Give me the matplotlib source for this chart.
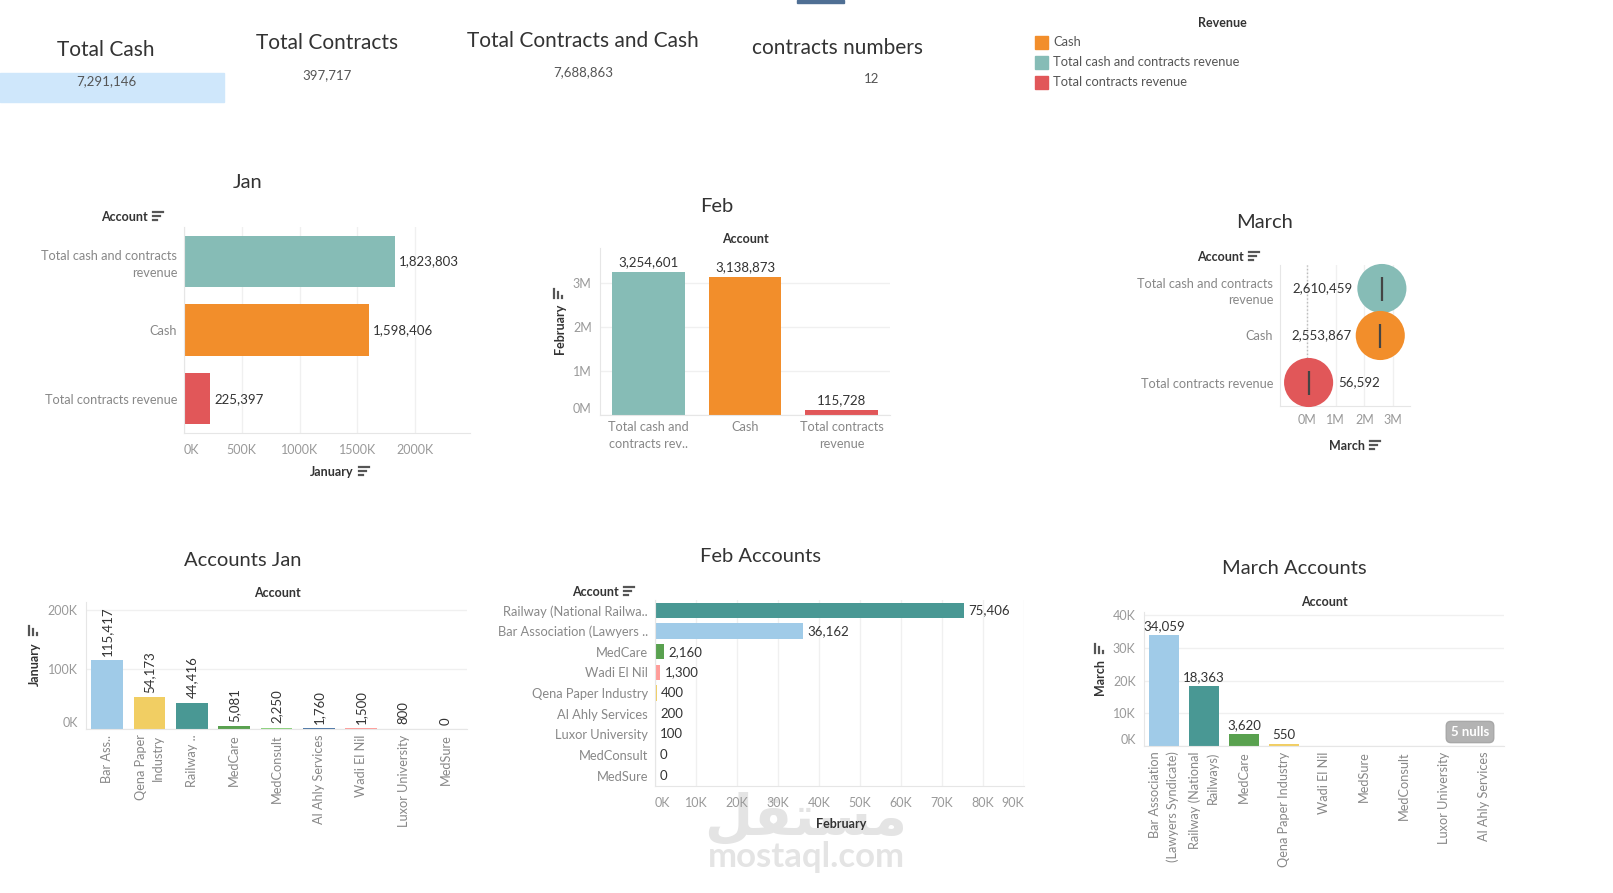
import numpy as np
import matplotlib
matplotlib.use('Agg')
import matplotlib.pyplot as plt
from matplotlib.patches import Rectangle
from matplotlib.lines import Line2D

plt.rcParams['font.family'] = ['Lato', 'DejaVu Sans']

W, H = 1613, 893

# KPI cards
kpi_titles = ['Total Cash', 'Total Contracts', 'Total Contracts and Cash', 'contracts numbers']
kpi_values = [7291146, 397717, 7688863, 12]

# monthly totals per revenue type
rev_types = ['Total cash and contracts revenue', 'Cash', 'Total contracts revenue']
jan_totals = [1823803, 1598406, 225397]
feb_totals = [3254601, 3138873, 115728]
mar_totals = [2610459, 2553867, 56592]
legend_types = ['Cash', 'Total cash and contracts revenue', 'Total contracts revenue']

jan_rev_labels = ['Total cash and contracts\nrevenue', 'Cash', 'Total contracts revenue']
feb_rev_labels = ['Total cash and\ncontracts rev..', 'Cash', 'Total contracts\nrevenue']

# accounts per month
jan_acc_keys = ['Bar Association', 'Qena Paper Industry', 'Railway', 'MedCare', 'MedConsult',
                'Al Ahly Services', 'Wadi El Nil', 'Luxor University', 'MedSure']
jan_acc_labels = ['Bar Ass..', 'Qena Paper\nIndustry', 'Railway ..', 'MedCare', 'MedConsult',
                  'Al Ahly Services', 'Wadi El Nil', 'Luxor University', 'MedSure']
jan_acc_values = [115417, 54173, 44416, 5081, 2250, 1760, 1500, 800, 0]

feb_acc_keys = ['Railway', 'Bar Association', 'MedCare', 'Wadi El Nil', 'Qena Paper Industry',
                'Al Ahly Services', 'Luxor University', 'MedConsult', 'MedSure']
feb_acc_labels = ['Railway (National Railwa..', 'Bar Association (Lawyers ..', 'MedCare', 'Wadi El Nil',
                  'Qena Paper Industry', 'Al Ahly Services', 'Luxor University', 'MedConsult', 'MedSure']
feb_acc_values = [75406, 36162, 2160, 1300, 400, 200, 100, 0, 0]

mar_acc_keys = ['Bar Association', 'Railway', 'MedCare', 'Qena Paper Industry', 'Wadi El Nil',
                'MedSure', 'MedConsult', 'Luxor University', 'Al Ahly Services']
mar_acc_labels = ['Bar Association\n(Lawyers Syndicate)', 'Railway (National\nRailways)', 'MedCare',
                  'Qena Paper Industry', 'Wadi El Nil', 'MedSure', 'MedConsult', 'Luxor University',
                  'Al Ahly Services']
mar_acc_values = [34059, 18363, 3620, 550, np.nan, np.nan, np.nan, np.nan, np.nan]

# colours (tableau 20)
rev_color = {'Total cash and contracts revenue': '#86BCB6', 'Cash': '#F28E2B',
             'Total contracts revenue': '#E15759'}
acc_color = {'Bar Association': '#A0CBE8', 'Qena Paper Industry': '#F1CE63', 'Railway': '#499894',
             'MedCare': '#59A14F', 'MedConsult': '#8CD17D', 'Al Ahly Services': '#4E79A7',
             'Wadi El Nil': '#FF9D9A', 'Luxor University': '#BAB0AC', 'MedSure': '#D37295'}

TICK = '#999999'
CAT = '#888888'
VAL = '#333333'
HEAD = '#333333'
LS = 1.5

fig = plt.figure(figsize=(W / 100, H / 100), dpi=100)


def fx(x):
    return x / W


def fy(y):
    return 1 - y / H


def txt(x, y, s, **kw):
    kw.setdefault('ha', 'center')
    kw.setdefault('va', 'center')
    return fig.text(fx(x), fy(y), s, **kw)


def add_ax(l, t, r, b):
    ax = fig.add_axes([fx(l), fy(b), (r - l) / W, (b - t) / H])
    ax.set_facecolor('none')
    for s in ['top', 'right']:
        ax.spines[s].set_visible(False)
    for s in ['left', 'bottom']:
        ax.spines[s].set_color('#e6e6e6')
    ax.tick_params(length=0, labelsize=9)
    ax.tick_params(axis='both', labelcolor=TICK)
    ax.set_axisbelow(True)
    return ax


def sort_h(x, y):
    for i, w in enumerate([10, 7, 3.5]):
        fig.add_artist(Line2D([fx(x), fx(x + w)], [fy(y + i * 4)] * 2, color='#555555', lw=1.6))


def sort_v(x, yb):
    for i, h in enumerate([9, 6, 2.5]):
        fig.add_artist(Line2D([fx(x + i * 4)] * 2, [fy(yb), fy(yb - h)], color='#555555', lw=1.6))


def header_sorted(x_icon, y, s):
    # header text followed by the sort icon
    txt(x_icon - 5, y, s, ha='right', fontsize=9, fontweight='bold', color=HEAD)
    sort_h(x_icon, y - 5)


def kfmt(v):
    return f"{int(v / 1000)}K"


def mfmt(v):
    return f"{int(v / 1e6)}M"


# ---- watermark (behind everything)
txt(806, 820, '\uFEDE\uFED8\uFE98\uFEB4\uFEE3', fontsize=40, fontweight='bold', color='#e4e4e4',
    family='DejaVu Sans', zorder=-5)
txt(806, 857, 'mostaql.com', fontsize=25, fontweight='bold', color='#e4e4e4', zorder=-5)

# ---- top strip
fig.add_artist(Rectangle((fx(797), fy(3)), 47 / W, 3 / H, color='#4f6f94'))

# ---- KPI cards
fig.add_artist(Rectangle((fx(0), fy(102)), 224 / W, 29 / H, color='#cfe7fb', zorder=-1))
kpi_pos = [(106, 50, 106, 81), (327, 43, 327, 75), (583, 41, 583, 72), (837, 48, 872, 79)]
for (tx, ty, vx, vy), t, v in zip(kpi_pos, kpi_titles, kpi_values):
    txt(tx, ty, t, fontsize=15, color='#333333')
    txt(vx, vy, f"{v:,}", fontsize=9.5, color='#555555')

# ---- legend
txt(1222, 23, 'Revenue', fontsize=9, fontweight='bold', color=HEAD)
for i, name in enumerate(legend_types):
    yc = 42 + i * 20
    fig.add_artist(Rectangle((fx(1035), fy(yc + 6.5)), 13 / W, 13 / H, color=rev_color[name]))
    txt(1053, yc, name, fontsize=9.3, color='#555555', ha='left')

# ---- Jan (horizontal bars)
ax = add_ax(184, 227, 470, 433)
y = np.arange(len(rev_types))
ax.barh(y, jan_totals, height=0.75, color=[rev_color[r] for r in rev_types])
ax.set_ylim(2.5, -0.5)
ax.set_xlim(0, 2.474e6)
xt = np.arange(0, 2000001, 500000)
ax.set_xticks(xt)
ax.set_xticklabels([kfmt(v) for v in xt])
ax.get_xticklabels()[0].set_ha('left')
ax.set_yticks(y)
ax.set_yticklabels(jan_rev_labels, color=CAT, fontsize=9.2, linespacing=LS)
for t in ax.get_yticklabels():
    t.set_multialignment('right')
ax.grid(axis='x', color='#f0f0f0', lw=1)
ax.tick_params(axis='x', pad=8)
ax.tick_params(axis='y', pad=5)
for i, v in enumerate(jan_totals):
    ax.annotate(f"{v:,}", (v, i), xytext=(3, 0), textcoords='offset points', va='center',
                fontsize=9.5, color=VAL)
txt(248, 183, 'Jan', fontsize=14.5, color='#333333')
header_sorted(153, 217, 'Account')
header_sorted(359, 472, 'January')

# ---- Feb (vertical bars)
ax = add_ax(600, 248, 890, 415)
x = np.arange(len(rev_types))
ax.bar(x, feb_totals, width=0.755, color=[rev_color[r] for r in rev_types])
ax.set_xlim(-0.5, 2.5)
ax.set_ylim(0, 3.8e6)
yt = np.arange(0, 3000001, 1000000)
ax.set_yticks(yt)
ax.set_yticklabels([mfmt(v) for v in yt])
ax.get_yticklabels()[0].set_va('bottom')
ax.set_xticks(x)
ax.set_xticklabels(feb_rev_labels, color=CAT, fontsize=9.2, linespacing=LS)
ax.grid(axis='y', color='#f0f0f0', lw=1)
ax.tick_params(axis='x', pad=4)
ax.tick_params(axis='y', pad=6)
for i, v in enumerate(feb_totals):
    ax.annotate(f"{v:,}", (i, v), xytext=(0, 3), textcoords='offset points', ha='center',
                va='bottom', fontsize=9.5, color=VAL)
txt(717, 206, 'Feb', fontsize=14.5, color='#333333')
txt(745, 239, 'Account', fontsize=9, fontweight='bold', color=HEAD)
txt(560, 329, 'February', fontsize=9, fontweight='bold', color=HEAD, rotation=90)
sort_v(554, 298)

# ---- March (circles)
ax = add_ax(1280, 265, 1410, 406)
yy = np.arange(len(rev_types))
ax.scatter(mar_totals, yy, s=1250, color=[rev_color[r] for r in rev_types], edgecolors='none',
           zorder=3, clip_on=False)
ax.scatter(mar_totals, yy, marker='|', s=290, color='#444444', linewidths=1.6, zorder=4, clip_on=False)
ax.set_xlim(-0.94e6, 3.59e6)
ax.set_ylim(2.5, -0.5)
ax.axvline(0, ls=':', color='#bbbbbb', lw=1, zorder=1)
xt = np.arange(0, 3000001, 1000000)
ax.set_xticks(xt)
ax.set_xticklabels([mfmt(v) for v in xt])
ax.set_yticks(yy)
ax.set_yticklabels(jan_rev_labels, color=CAT, fontsize=9.2, linespacing=LS)
for t in ax.get_yticklabels():
    t.set_multialignment('right')
ax.grid(axis='x', color='#f0f0f0', lw=1)
ax.tick_params(axis='x', pad=6)
ax.tick_params(axis='y', pad=5)
xmid = sum(ax.get_xlim()) / 2
for i, v in enumerate(mar_totals):
    if v > xmid:
        ax.annotate(f"{v:,}", (v, i), xytext=(-21, 0), textcoords='offset points', ha='right',
                    va='center', fontsize=9.5, color=VAL)
    else:
        ax.annotate(f"{v:,}", (v, i), xytext=(21, 0), textcoords='offset points', ha='left',
                    va='center', fontsize=9.5, color=VAL)
txt(1265, 223, 'March', fontsize=14.5, color='#333333')
header_sorted(1249, 257, 'Account')
header_sorted(1370, 446, 'March')

# ---- Accounts Jan
ax = add_ax(86, 602, 467, 729)
x = np.arange(len(jan_acc_keys))
ax.bar(x, jan_acc_values, width=0.75, color=[acc_color[k] for k in jan_acc_keys])
ax.set_xlim(-0.5, len(x) - 0.5)
ax.set_ylim(0, 213000)
yt = [0, 100000, 200000]
ax.set_yticks(yt)
ax.set_yticklabels([kfmt(v) for v in yt])
ax.get_yticklabels()[0].set_va('bottom')
ax.set_xticks(x)
ax.set_xticklabels(jan_acc_labels, rotation=90, color=CAT, fontsize=9.2, linespacing=LS)
for t in ax.get_xticklabels():
    t.set_multialignment('right')
ax.grid(axis='y', color='#f0f0f0', lw=1)
ax.tick_params(axis='x', pad=4)
ax.tick_params(axis='y', pad=6)
for i, v in enumerate(jan_acc_values):
    ax.annotate(f"{v:,}", (i, v), xytext=(0, 3), textcoords='offset points', ha='center',
                va='bottom', rotation=90, fontsize=9.5, color=VAL)
txt(243, 560, 'Accounts Jan', fontsize=14.5, color='#333333')
txt(277, 593, 'Account', fontsize=9, fontweight='bold', color=HEAD)
txt(35, 664, 'January', fontsize=9, fontweight='bold', color=HEAD, rotation=90)
sort_v(29, 635)

# ---- Feb Accounts
ax = add_ax(655, 600, 1024, 786)
y = np.arange(len(feb_acc_keys))
ax.barh(y, feb_acc_values, height=0.73, color=[acc_color[k] for k in feb_acc_keys])
ax.set_ylim(len(y) - 0.5, -0.5)
ax.set_xlim(0, 90000)
xt = np.arange(0, 90001, 10000)
ax.set_xticks(xt)
ax.set_xticklabels([kfmt(v) for v in xt])
ax.get_xticklabels()[0].set_ha('left')
ax.get_xticklabels()[-1].set_ha('right')
ax.set_yticks(y)
ax.set_yticklabels(feb_acc_labels, color=CAT, fontsize=9.3)
ax.grid(axis='x', color='#f0f0f0', lw=1)
ax.tick_params(axis='x', pad=8)
ax.tick_params(axis='y', pad=5)
for i, v in enumerate(feb_acc_values):
    ax.annotate(f"{v:,}", (v, i), xytext=(3, 0), textcoords='offset points', va='center',
                fontsize=9.5, color=VAL)
txt(761, 557, 'Feb Accounts', fontsize=14.5, color='#333333')
header_sorted(624, 592, 'Account')
txt(841, 824, 'February', fontsize=9, fontweight='bold', color=HEAD)

# ---- March Accounts
ax = add_ax(1144, 612, 1504, 746)
x = np.arange(len(mar_acc_keys))
vals = np.array(mar_acc_values, dtype=float)
ok = ~np.isnan(vals)
ax.bar(x[ok], vals[ok], width=0.75, color=[acc_color[k] for k, o in zip(mar_acc_keys, ok) if o])
ax.set_xlim(-0.5, len(x) - 0.5)
ax.set_ylim(0, 41000)
yt = np.arange(0, 40001, 10000)
ax.set_yticks(yt)
ax.set_yticklabels([kfmt(v) for v in yt])
ax.get_yticklabels()[0].set_va('bottom')
ax.set_xticks(x)
ax.set_xticklabels(mar_acc_labels, rotation=90, color=CAT, fontsize=9.2, linespacing=LS)
for t in ax.get_xticklabels():
    t.set_multialignment('right')
ax.grid(axis='y', color='#f0f0f0', lw=1)
ax.tick_params(axis='x', pad=4)
ax.tick_params(axis='y', pad=6)
for i, v in zip(x[ok], vals[ok]):
    ax.annotate(f"{int(v):,}", (i, v), xytext=(0, 2), textcoords='offset points', ha='center',
                va='bottom', fontsize=9.5, color=VAL)
n_null = int((~ok).sum())
txt(1470, 732, f"{n_null} nulls", fontsize=9.5, fontweight='bold', color='white',
    bbox=dict(boxstyle='round,pad=0.35', fc='#b3b3b3', ec='#a8a8a8'))
txt(1294, 568, 'March Accounts', fontsize=14.5, color='#333333')
txt(1324, 602, 'Account', fontsize=9, fontweight='bold', color=HEAD)
txt(1100, 677, 'March', fontsize=9, fontweight='bold', color=HEAD, rotation=90)
sort_v(1095, 653)

fig.savefig('out.png', dpi=100, facecolor='white')
